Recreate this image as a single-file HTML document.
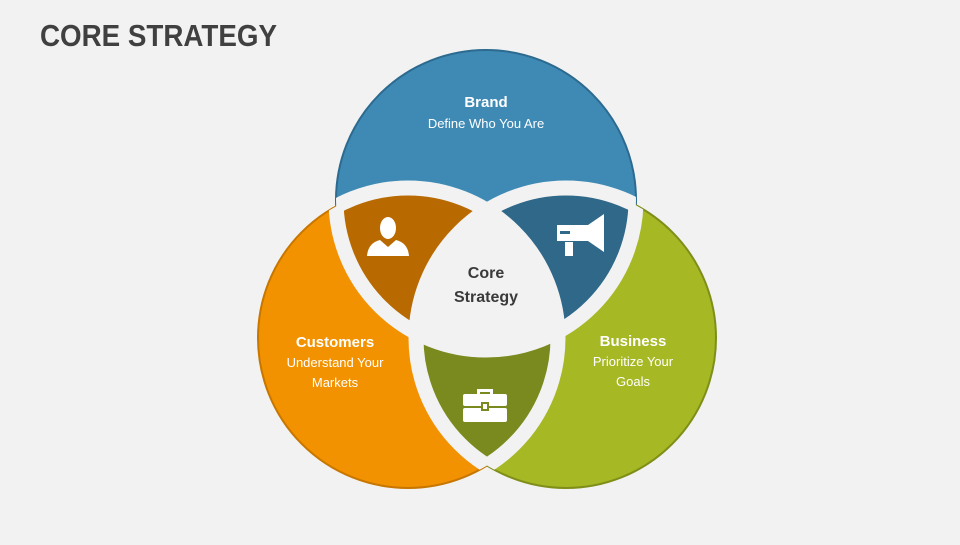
<!DOCTYPE html>
<html><head><meta charset="utf-8"><style>
html,body{margin:0;padding:0;background:#F2F2F2;}
body{width:960px;height:540px;overflow:hidden;font-family:"Liberation Sans",sans-serif;}
</style></head><body>
<svg width="960" height="540" viewBox="0 0 960 540" xmlns="http://www.w3.org/2000/svg">
<defs>
<clipPath id="cT"><circle cx="486" cy="200" r="150"/></clipPath>
<clipPath id="cL"><circle cx="408" cy="338" r="150"/></clipPath>
<clipPath id="cR"><circle cx="566" cy="338" r="150"/></clipPath>
<clipPath id="oTR"><circle cx="408" cy="338" r="150"/><circle cx="566" cy="338" r="150"/></clipPath>
<clipPath id="oTL"><circle cx="486" cy="200" r="150"/><circle cx="566" cy="338" r="150"/></clipPath>
<clipPath id="oLR"><circle cx="486" cy="200" r="150"/><circle cx="408" cy="338" r="150"/></clipPath>
</defs>
<rect width="960" height="540" fill="#F2F2F2"/>
<text x="40" y="46" font-size="31" font-weight="bold" fill="#404040" textLength="237" lengthAdjust="spacingAndGlyphs">CORE STRATEGY</text>

<circle cx="486" cy="200" r="150" fill="#3F8AB5" stroke="#2C6A8F" stroke-width="2"/>
<circle cx="408" cy="338" r="150" fill="#F39200" stroke="#C77600" stroke-width="2"/>
<circle cx="566" cy="338" r="150" fill="#A6B823" stroke="#7F8E18" stroke-width="2"/>
<g clip-path="url(#cT)"><circle cx="408" cy="338" r="150" fill="#B86A00"/></g>
<g clip-path="url(#cT)"><circle cx="566" cy="338" r="150" fill="#2F6888"/></g>
<g clip-path="url(#cL)"><circle cx="566" cy="338" r="150" fill="#7B8A1E"/></g>
<g clip-path="url(#cT)"><g clip-path="url(#cL)"><circle cx="566" cy="338" r="150" fill="#F2F2F2"/></g></g>
<g fill="none" stroke="#F2F2F2" stroke-width="15">
<circle cx="486" cy="200" r="150" clip-path="url(#oTR)"/>
<circle cx="408" cy="338" r="150" clip-path="url(#oTL)"/>
<circle cx="566" cy="338" r="150" clip-path="url(#oLR)"/>
</g>

<g font-family="Liberation Sans, sans-serif" text-anchor="middle">
<text x="486" y="107" font-size="15" font-weight="bold" fill="#fff">Brand</text>
<text x="486" y="128" font-size="13" fill="#fff">Define Who You Are</text>
<text x="486" y="278" font-size="16" font-weight="bold" fill="#3a3a3a">Core</text>
<text x="486" y="302" font-size="16" font-weight="bold" fill="#3a3a3a">Strategy</text>
<text x="335" y="347" font-size="15" font-weight="bold" fill="#fff">Customers</text>
<text x="335" y="367" font-size="13" fill="#fff">Understand Your</text>
<text x="335" y="387" font-size="13" fill="#fff">Markets</text>
<text x="633" y="346" font-size="15" font-weight="bold" fill="#fff">Business</text>
<text x="633" y="366" font-size="13" fill="#fff">Prioritize Your</text>
<text x="633" y="386" font-size="13" fill="#fff">Goals</text>
</g>

<g fill="#fff">
<ellipse cx="388" cy="228" rx="8" ry="11"/>
<path d="M367 256 Q368 243 380 240 L388 247 L396 240 Q408 243 409 256 Z"/>
</g>
<g fill="#fff">
<rect x="557" y="225" width="10" height="16"/>
<path d="M567 225 L588 225 L604 214 L604 252 L588 241 L567 241 Z"/>
<rect x="565" y="242" width="8" height="14"/>
<rect x="560" y="231" width="10" height="3" fill="#2F6888"/>
</g>
<g fill="#fff">
<path d="M477 389 h16 v5 h-3 v-2 h-10 v2 h-3 z"/>
<rect x="463" y="394" width="44" height="12" rx="2"/>
<rect x="463" y="408" width="44" height="14" rx="2"/>
<rect x="481" y="402" width="8" height="9" fill="#7B8A1E"/>
<rect x="483" y="404" width="4" height="5"/>
</g>
</svg>
</body></html>
